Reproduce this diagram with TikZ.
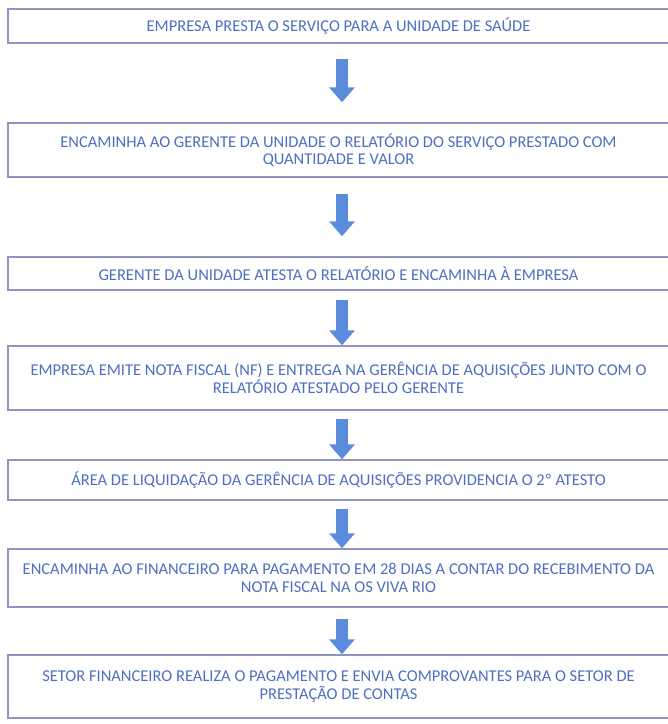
\documentclass[tikz,border=0pt]{standalone}
\usepackage{fontspec}
\setmainfont{Carlito}
\usetikzlibrary{arrows.meta}
\definecolor{boxline}{HTML}{9193C2}
\definecolor{txtblue}{HTML}{4E6FC2}
\definecolor{arrblue}{HTML}{5A8CDB}
\tikzset{
  stepbox/.style={draw=boxline, line width=1.4pt, fill=white, rectangle,
    minimum width=661pt, inner sep=0pt, align=center, text=txtblue,
    font=\fontsize{16.5}{17.5}\selectfont},
  flowarrow/.style={draw=arrblue, line width=12pt,
    -{Triangle[width=25pt,length=15pt]}}
}
\begin{document}
\begin{tikzpicture}[x=1pt,y=-1pt]
\useasboundingbox (0,0) rectangle (668,724);
\node[stepbox, minimum height=34pt] (b1) at (338.5,26) {EMPRESA PRESTA O SERVIÇO PARA A UNIDADE DE SAÚDE};
\node[stepbox, minimum height=54pt] (b2) at (338.5,150) {ENCAMINHA AO GERENTE DA UNIDADE O RELATÓRIO DO SERVIÇO PRESTADO COM\\QUANTIDADE E VALOR};
\node[stepbox, minimum height=33pt] (b3) at (338.5,273.5) {GERENTE DA UNIDADE ATESTA O RELATÓRIO E ENCAMINHA À EMPRESA};
\node[stepbox, minimum height=64pt] (b4) at (338.5,378) {EMPRESA EMITE NOTA FISCAL (NF) E ENTREGA NA GERÊNCIA DE AQUISIÇÕES JUNTO COM O\\RELATÓRIO ATESTADO PELO GERENTE};
\node[stepbox, minimum height=40pt] (b5) at (338.5,480) {ÁREA DE LIQUIDAÇÃO DA GERÊNCIA DE AQUISIÇÕES PROVIDENCIA O 2º ATESTO};
\node[stepbox, minimum height=58pt] (b6) at (338.5,578) {ENCAMINHA AO FINANCEIRO PARA PAGAMENTO EM 28 DIAS A CONTAR DO RECEBIMENTO DA\\NOTA FISCAL NA OS VIVA RIO};
\node[stepbox, minimum height=63pt] (b7) at (338.5,686.5) {SETOR FINANCEIRO REALIZA O PAGAMENTO E ENVIA COMPROVANTES PARA O SETOR DE\\PRESTAÇÃO DE CONTAS};
\draw[flowarrow] ([xshift=3.5pt,yshift=-15pt]b1.south) -- ([xshift=3.5pt,yshift=20pt]b2.north);
\draw[flowarrow] ([xshift=3.5pt,yshift=-16pt]b2.south) -- ([xshift=3.5pt,yshift=20pt]b3.north);
\draw[flowarrow] ([xshift=3.5pt,yshift=-9pt]b3.south) -- ([xshift=3.5pt]b4.north);
\draw[flowarrow] ([xshift=3.5pt,yshift=-8pt]b4.south) -- ([xshift=3.5pt]b5.north);
\draw[flowarrow] ([xshift=3.5pt,yshift=-8pt]b5.south) -- ([xshift=3.5pt]b6.north);
\draw[flowarrow] ([xshift=3.5pt,yshift=-11pt]b6.south) -- ([xshift=3.5pt]b7.north);
\end{tikzpicture}
\end{document}
